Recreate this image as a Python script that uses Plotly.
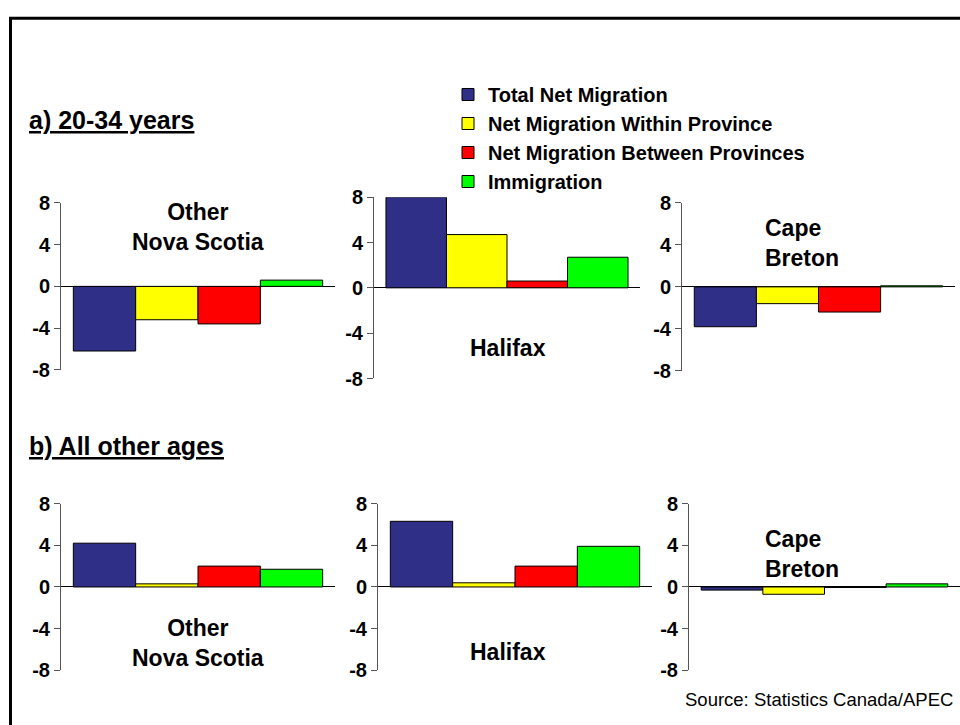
import plotly.graph_objects as go

W, H = 960, 725

series = ["Total Net Migration", "Net Migration Within Province",
          "Net Migration Between Provinces", "Immigration"]
colors = ["#2F2F88", "#FFFF00", "#FF0000", "#00FF00"]
regions = ["Other Nova Scotia", "Halifax", "Cape Breton"]

# a) 20-34 years (per region: Other NS, Halifax, Cape Breton)
total_20_34 = [-6.2, 8.0, -3.8]
within_20_34 = [-3.2, 4.7, -1.6]
between_20_34 = [-3.6, 0.6, -2.4]
immig_20_34 = [0.6, 2.7, 0.1]

# b) All other ages
total_other = [4.2, 6.3, -0.3]
within_other = [0.3, 0.4, -0.7]
between_other = [2.0, 2.0, -0.05]
immig_other = [1.7, 3.9, 0.3]

tick_vals = [-8, -4, 0, 4, 8]
tick_text = ["-8", "-4", "0", "4", "8"]

groups = [
    [total_20_34, within_20_34, between_20_34, immig_20_34],
    [total_other, within_other, between_other, immig_other],
]

# panel pixel boxes: (x0, x1, ytop, ybottom)
boxes = [
    [(61, 335, 198, 370), (374, 640, 192, 379), (682, 955, 198, 371)],
    [(61, 335, 508, 680), (378, 652, 508, 680), (689, 960, 508, 680)],
]

FONT = "Liberation Sans, Arial, sans-serif"
fig = go.Figure()
layout = {}
k = 0
for g in range(2):
    for r in range(3):
        k += 1
        xa = "x" if k == 1 else f"x{k}"
        ya = "y" if k == 1 else f"y{k}"
        for s in range(4):
            fig.add_trace(go.Bar(
                x=[regions[r]], y=[groups[g][s][r]], name=series[s],
                marker=dict(color=colors[s], line=dict(color="#000000", width=1)),
                xaxis=xa, yaxis=ya, legendgroup=series[s],
                showlegend=(k == 1), hoverinfo="skip"))
        x0, x1, yt, yb = boxes[g][r]
        layout["xaxis" if k == 1 else f"xaxis{k}"] = dict(
            domain=[x0 / W, x1 / W], anchor=ya, showticklabels=False,
            showline=False, showgrid=False, zeroline=False, ticks="", fixedrange=True)
        layout["yaxis" if k == 1 else f"yaxis{k}"] = dict(
            domain=[(H - yb) / H, (H - yt) / H], anchor=xa, range=[-8, 8],
            tickvals=tick_vals, ticktext=tick_text, ticks="outside", ticklen=6,
            tickcolor="#555555", showline=True, linecolor="#555555", linewidth=1,
            showgrid=False, zeroline=True, zerolinecolor="#000000", zerolinewidth=1,
            tickfont=dict(family=FONT, size=20, color="#000000", weight="bold"),
            fixedrange=True)

fig.update_layout(**layout)

def px_x(v):
    return v / W

def px_y(v):
    return (H - v) / H

ann = []
lab = dict(family=FONT, size=23, color="#000000", weight="bold")
ann.append(dict(x=px_x(198), y=px_y(223), text="Other<br>Nova Scotia", align="center"))
ann.append(dict(x=px_x(508), y=px_y(348), text="Halifax", align="center"))
ann.append(dict(x=px_x(763), y=px_y(239), text="Cape<br>Breton", align="left", xanchor="left"))
ann.append(dict(x=px_x(198), y=px_y(652), text="Other<br>Nova Scotia", align="center"))
ann.append(dict(x=px_x(508), y=px_y(661), text="Halifax", align="center"))
ann.append(dict(x=px_x(763), y=px_y(560), text="Cape<br>Breton", align="left", xanchor="left"))
annotations = []
for a in ann:
    d = dict(xref="paper", yref="paper", showarrow=False, font=lab, yanchor="middle")
    d.setdefault("xanchor", "center")
    d.update(a)
    annotations.append(d)

title_font = dict(family=FONT, size=25, color="#000000", weight="bold")
annotations.append(dict(xref="paper", yref="paper", x=px_x(27), y=px_y(112),
                        text="<u>a) 20-34 years</u>", showarrow=False, xanchor="left",
                        yanchor="middle", font=title_font))
annotations.append(dict(xref="paper", yref="paper", x=px_x(27), y=px_y(449),
                        text="<u>b) All other ages</u>", showarrow=False, xanchor="left",
                        yanchor="middle", font=title_font))
annotations.append(dict(xref="paper", yref="paper", x=px_x(955), y=px_y(710),
                        text="Source: Statistics Canada/APEC", showarrow=False,
                        xanchor="right", yanchor="middle",
                        font=dict(family=FONT, size=18.5, color="#000000")))

fig.update_layout(
    width=W, height=H, margin=dict(l=0, r=0, t=0, b=0),
    paper_bgcolor="white", plot_bgcolor="white",
    barmode="group", bargap=0.09, bargroupgap=0,
    annotations=annotations,
    legend=dict(x=px_x(448), y=px_y(66), xanchor="left", yanchor="top",
                font=dict(family=FONT, size=20, color="#000000", weight="bold"),
                bgcolor="rgba(0,0,0,0)", borderwidth=0, itemwidth=30,
                tracegroupgap=0, traceorder="normal"),
    shapes=[dict(type="rect", xref="paper", yref="paper",
                 x0=px_x(10.5), x1=1.2, y0=-0.2, y1=px_y(7.5),
                 line=dict(color="#000000", width=3), fillcolor="rgba(0,0,0,0)")],
)

fig.write_html("out.html")
